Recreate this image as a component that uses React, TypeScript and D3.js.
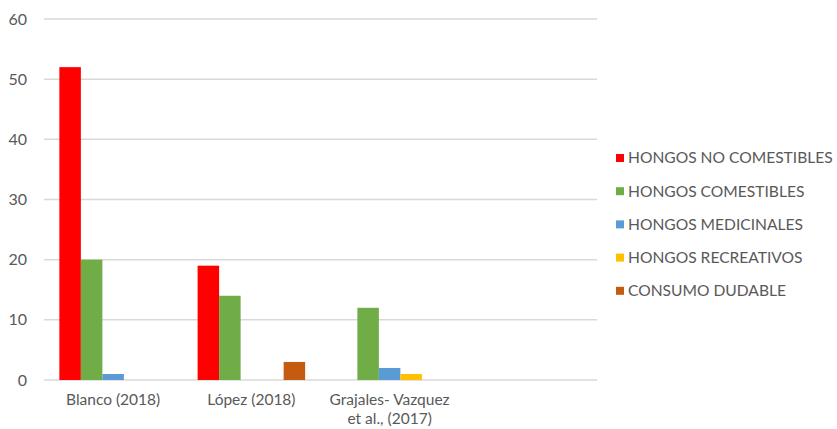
import React from "react";
import * as d3 from "d3";

const categories = ["Blanco (2018)", "López (2018)", "Grajales- Vazquez\net al., (2017)", ""];
const seriesNames = [
  "HONGOS NO COMESTIBLES",
  "HONGOS COMESTIBLES",
  "HONGOS MEDICINALES",
  "HONGOS RECREATIVOS",
  "CONSUMO DUDABLE",
];
const seriesColors = ["#ff0000", "#70ad47", "#5b9bd5", "#ffc000", "#c55a11"];
const noComestibles = [52, 19, 0, 0];
const comestibles = [20, 14, 12, 0];
const medicinales = [1, 0, 2, 0];
const recreativos = [0, 0, 1, 0];
const dudable = [0, 3, 0, 0];
const seriesValues = [noComestibles, comestibles, medicinales, recreativos, dudable];
const yTicks = [0, 10, 20, 30, 40, 50, 60];

const W = 837;
const H = 429;
const left = 44;
const right = 597;
const top = 19;
const bottom = 380;
const font = "Lato, 'DejaVu Sans', sans-serif";
const textColor = "#595959";

export default function App() {
  const x = d3
    .scaleBand<number>()
    .domain(d3.range(categories.length))
    .range([left, right])
    .paddingInner(0.2222)
    .paddingOuter(0.1111);
  const xb = d3
    .scaleBand<number>()
    .domain(d3.range(seriesNames.length))
    .range([0, x.bandwidth()]);
  const y = d3.scaleLinear().domain([0, 60]).range([bottom, top]);
  const step = x.step();

  return (
    <svg width={W} height={H} style={{ position: "absolute", left: 0, top: 0, background: "#fff" }}>
      {yTicks.map((t) => (
        <g key={t}>
          <line x1={left} x2={right} y1={y(t)} y2={y(t)} stroke="#d9d9d9" strokeWidth={1.5} />
          <text x={27} y={y(t)} dy="0.35em" textAnchor="end" fontFamily={font} fontSize={16} fill={textColor}>
            {t}
          </text>
        </g>
      ))}
      {seriesValues.map((vals, s) =>
        vals.map((v, i) =>
          v > 0 ? (
            <rect
              key={`${s}-${i}`}
              x={(x(i) as number) + (xb(s) as number)}
              y={y(v)}
              width={xb.bandwidth()}
              height={y(0) - y(v)}
              fill={seriesColors[s]}
            />
          ) : null
        )
      )}
      {categories.map((c, i) => {
        const lines = c.split("\n");
        const cx = (x(i) as number) + x.bandwidth() / 2;
        return (
          <text key={i} textAnchor="middle" fontFamily={font} fontSize={15.5} fill={textColor}>
            {lines.map((l, k) => (
              <tspan key={k} x={cx} y={405 + k * 19}>
                {l}
              </tspan>
            ))}
          </text>
        );
      })}
      {seriesNames.map((n, s) => (
        <g key={n} transform={`translate(616, ${158 + s * 33.2})`}>
          <rect x={0} y={-4} width={8} height={8} fill={seriesColors[s]} />
          <text x={12} y={0} dy="0.35em" fontFamily={font} fontSize={15.6} fill={textColor}>
            {n}
          </text>
        </g>
      ))}
    </svg>
  );
}
